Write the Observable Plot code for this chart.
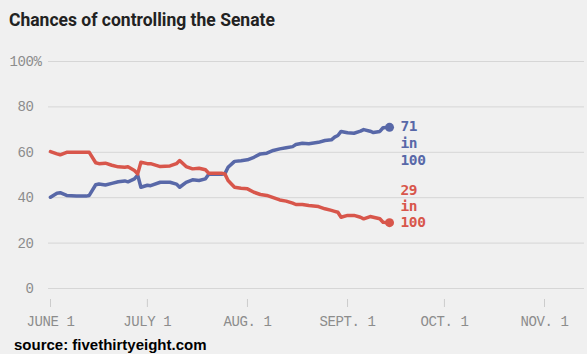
<!DOCTYPE html>
<html><head><meta charset="utf-8">
<script src="https://cdn.jsdelivr.net/npm/d3@7"></script>
<script src="https://cdn.jsdelivr.net/npm/@observablehq/plot@0.6"></script>
<style>
html,body{margin:0;padding:0;background:#f0f0f0;width:587px;height:354px;overflow:hidden}
#title{height:40px;box-sizing:border-box;padding:10px 0 0 9px;font:700 17.5px Roboto;line-height:21px;color:#222}
#chart svg{display:block}
#source{font:700 15px "Liberation Sans";line-height:19px;color:#000;padding-left:14px}
</style></head>
<body>
<div id="title">Chances of controlling the Senate</div>
<div id="chart"></div>
<div id="source">source: fivethirtyeight.com</div>
<script>
const dates = ["06-01","06-03","06-04","06-06","06-09","06-12","06-13","06-15","06-16","06-18","06-20","06-22","06-24","06-25","06-27","06-28","06-29","07-01","07-02","07-05","07-08","07-10","07-11","07-13","07-15","07-17","07-19","07-20","07-24","07-25","07-26","07-28","07-30","08-01","08-03","08-05","08-07","08-09","08-11","08-13","08-15","08-16","08-18","08-20","08-23","08-25","08-27","08-28","08-29","08-30","09-01","09-03","09-05","09-06","09-08","09-09","09-11","09-12","09-14"];
const blueValues = [40.2,42,42.2,41,40.7,40.7,41,45.7,46,45.6,46.3,47,47.4,47,48.3,50,44.6,45.5,45.3,46.8,46.8,46,44.6,46.8,47.9,47.6,48.3,50.3,50.3,50.5,53.4,56,56.3,56.7,57.8,59.3,59.6,60.8,61.5,62,62.5,63.4,64,63.8,64.4,65.2,65.5,66.7,67.4,69.2,68.6,68.4,69.3,70,69.3,68.7,69.2,70.8,71];
const redValues  = [60.3,59.3,58.9,60,60,60,60,55.4,55,55.2,54.3,53.6,53.4,53.6,52,50.5,55.6,55,55,53.7,54,55,56.4,53.7,52.7,53,52.3,50.8,50.8,50.5,47.6,44.6,44.2,43.9,42.4,41.4,41,40,39,38.5,37.6,37,37,36.6,36.1,35.1,34.4,34,33.6,31.4,32.2,32.2,31.4,30.7,31.7,31.4,30.7,29.2,29];
const tickDates = ["06-01","07-01","08-01","09-01","10-01","11-01"];
const tickLabels = ["JUNE 1","JULY 1","AUG. 1","SEPT. 1","OCT. 1","NOV. 1"];
const yTicks = [0,20,40,60,80,100];
const endLabels = ["71\nin\n100","29\nin\n100"];

const year = "2014-";
const toDate = s => new Date(year + s + "T00:00:00Z");
const blue = dates.map((d,i)=>({date: toDate(d), value: blueValues[i]}));
const red = dates.map((d,i)=>({date: toDate(d), value: redValues[i]}));
const tickD = tickDates.map(toDate);
const labelMap = new Map(tickD.map((d,i)=>[+d, tickLabels[i]]));
const BLUE = "#5868a8", RED = "#d8564b";
const blueEnd = blue[blue.length-1], redEnd = red[red.length-1];
const mono = "'Liberation Mono', monospace";

const chart = Plot.plot({
  width: 587, height: 295,
  marginTop: 21, marginBottom: 36, marginLeft: 48, marginRight: 3,
  insetBottom: 11, insetLeft: 2, insetRight: 40,
  style: {background: "#f0f0f0", fontFamily: mono, fontSize: "14px", letterSpacing: "-0.4px"},
  x: {type: "utc", domain: [tickD[0], tickD[tickD.length-1]]},
  y: {domain: [0, 100]},
  marks: [
    Plot.gridY({ticks: yTicks, stroke: "#d6d6d6", strokeOpacity: 1, strokeWidth: 1}),
    Plot.axisY({ticks: yTicks, tickSize: 0, tickPadding: 15, tickFormat: d => String(d), fill: "#8c8c8c", label: null, fontFamily: mono}),
    Plot.text([100], {y: d => d, text: () => "%", frameAnchor: "left", textAnchor: "start", dx: -15, fill: "#8c8c8c"}),
    Plot.axisX({ticks: tickD, tickFormat: d => labelMap.get(+d), tickSize: 8, tickPadding: 9, stroke: "#cccccc", fill: "#8c8c8c", label: null}),
    Plot.line(blue, {x: "date", y: "value", stroke: BLUE, strokeWidth: 3.5, strokeLinejoin: "round"}),
    Plot.line(red, {x: "date", y: "value", stroke: RED, strokeWidth: 3.5, strokeLinejoin: "round"}),
    Plot.dot([blueEnd], {x: "date", y: "value", r: 4.5, fill: BLUE}),
    Plot.dot([redEnd], {x: "date", y: "value", r: 4.5, fill: RED}),
    Plot.text([blueEnd], {x: "date", y: "value", text: () => endLabels[0], textAnchor: "start", lineAnchor: "top", dx: 11, dy: -8, lineHeight: 1.15, fill: BLUE, fontFamily: "'DejaVu Sans Mono', monospace", fontSize: 14.5, fontWeight: "bold"}),
    Plot.text([redEnd], {x: "date", y: "value", text: () => endLabels[1], textAnchor: "start", lineAnchor: "bottom", dx: 11, dy: 4, lineHeight: 1.1, fill: RED, fontFamily: "'DejaVu Sans Mono', monospace", fontSize: 14.5, fontWeight: "bold"})
  ]
});
document.getElementById("chart").appendChild(chart);
</script>
</body></html>
